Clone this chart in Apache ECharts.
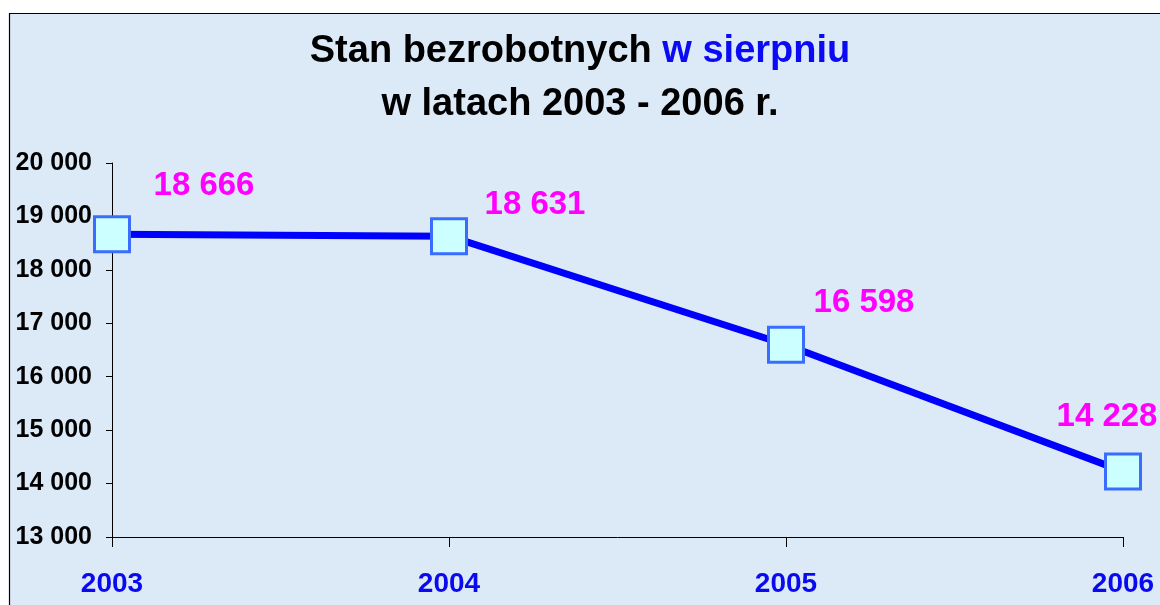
<!DOCTYPE html>
<html>
<head>
<meta charset="utf-8">
<script src="https://cdn.jsdelivr.net/npm/echarts@6/dist/echarts.min.js"></script>
<style>
html,body{margin:0;padding:0;background:#fff;}
#c{width:1160px;height:605px;}
</style>
</head>
<body>
<div id="c"></div>
<script>
const categories = ['2003', '2004', '2005', '2006'];
const unemployed = [18666, 18631, 16598, 14228];
const yTicks = [13000, 14000, 15000, 16000, 17000, 18000, 19000, 20000];
const titleLine1 = 'Stan bezrobotnych ';
const titleHighlight = 'w sierpniu';
const titleLine2 = 'w latach 2003 - 2006 r.';

// label offsets (styling only)
const labelOffsets = [[92, -48], [86, -31], [78, -42], [-16, -54]];

const fmt = v => String(v).replace(/\B(?=(\d{3})+(?!\d))/g, ' ');
const font = 'Liberation Sans, Arial, sans-serif';

const chart = echarts.init(document.getElementById('c'), null, {renderer: 'canvas'});
chart.setOption({
  animation: false,
  backgroundColor: '#ffffff',
  graphic: [{
    type: 'rect', z: -10, silent: true,
    shape: {x: 9.5, y: 13.5, width: 1200, height: 700},
    style: {fill: '#dce9f7', stroke: '#000000', lineWidth: 1.2}
  }],
  title: {
    left: 'center', top: 20,
    text: titleLine1 + '{b|' + titleHighlight + '}\n' + titleLine2,
    textStyle: {
      fontFamily: font, fontWeight: 'bold', fontSize: 38, color: '#000000', lineHeight: 53,
      rich: {b: {fontFamily: font, fontWeight: 'bold', fontSize: 38, color: '#0a0af5', lineHeight: 53}}
    }
  },
  grid: {left: 112, right: 37, top: 163, bottom: 68, containLabel: false},
  xAxis: {
    type: 'category', data: categories, boundaryGap: false,
    axisLine: {lineStyle: {color: '#000000', width: 1}},
    axisTick: {show: true, length: 10, alignWithLabel: true, lineStyle: {color: '#000000'}},
    axisLabel: {margin: 33, fontFamily: font, fontWeight: 'bold', fontSize: 28, color: '#0a0af0'},
    splitLine: {show: false}
  },
  yAxis: {
    type: 'value', min: yTicks[0], max: yTicks[yTicks.length - 1], interval: 1000,
    axisLine: {show: true, lineStyle: {color: '#000000', width: 1}},
    axisTick: {show: true, length: 6, lineStyle: {color: '#000000'}},
    axisLabel: {margin: 20, fontFamily: font, fontWeight: 'bold', fontSize: 25, color: '#000000', formatter: fmt},
    splitLine: {show: false}
  },
  series: [{
    type: 'line',
    data: unemployed.map((v, i) => ({
      value: v,
      label: {offset: labelOffsets[i]}
    })),
    symbol: 'rect', symbolSize: 35,
    itemStyle: {color: '#ccffff', borderColor: '#3a6cff', borderWidth: 3},
    lineStyle: {color: '#0000ff', width: 7},
    z: 3,
    label: {
      show: true, position: 'inside',
      formatter: p => fmt(p.value),
      fontFamily: font, fontWeight: 'bold', fontSize: 33, color: '#ff00ff'
    }
  }]
});
</script>
</body>
</html>
